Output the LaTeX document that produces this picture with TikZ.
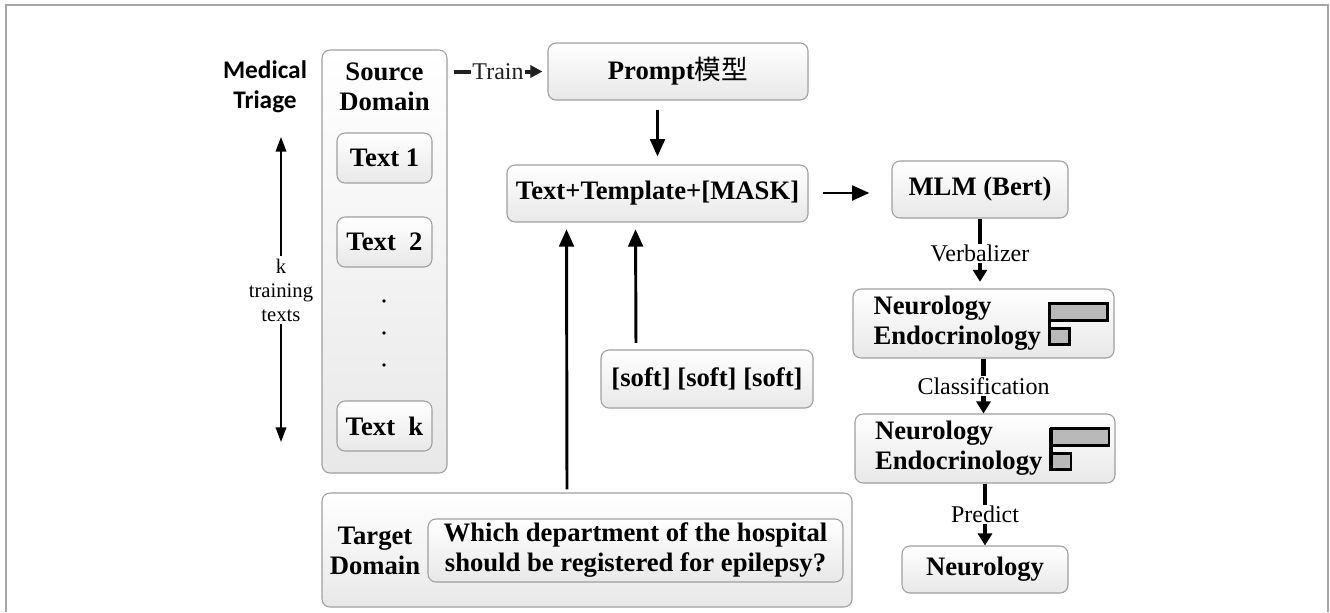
\documentclass[tikz,border=0pt]{standalone}
\usepackage{fontspec}
\setmainfont{Liberation Serif}
\newfontfamily\cjk{Noto Sans CJK SC}
\newfontfamily\calib{Carlito}
\usepackage{tikz}
\tikzstyle{block}=[draw=gray!75, line width=0.8pt, rounded corners=6pt, top color=white, bottom color=gray!18, align=center, inner sep=0pt, font=\bfseries\fontsize{20}{22.5}\selectfont]
\tikzstyle{plain}=[align=center, inner sep=1pt, font=\bfseries\fontsize{20}{22.5}\selectfont]
\tikzstyle{arrow}=[line width=2.2pt,-{Triangle[length=13pt,width=11pt]}]
\tikzstyle{step arrow}=[line width=3.4pt,-{Triangle[length=9pt,width=10.5pt]}]
\tikzstyle{lbl}=[fill=white, inner sep=1pt, font=\fontsize{18}{20}\selectfont]
\tikzstyle{bar}=[draw=black, line width=1.8pt, fill=gray!55]
\usetikzlibrary{arrows.meta,positioning,calc}

\begin{document}
\begin{tikzpicture}[x=0.75pt,y=-0.75pt]
\useasboundingbox (0,0) rectangle (1330,612);
\draw[gray!70, line width=1.5pt] (6,612) -- (6,5) -- (1328,5) -- (1328,612);
% source side
\node (med) at (265,87) [align=center, font=\calib\bfseries\fontsize{19}{22.5}\selectfont] {Medical\\Triage};
\node (src) at (384.5,261.5) [block, minimum width=93.75pt, minimum height=317.25pt] {};
\node (srclbl) at (384.5,87) [plain] {Source\\Domain};
\node (t1) at (384.5,158) [block, minimum width=71.25pt, minimum height=37.5pt] {Text 1};
\node (t2) at (384.5,242) [block, minimum width=71.25pt, minimum height=37.5pt] {Text\ \ 2};
\node (tk) at (384.5,426) [block, minimum width=71.25pt, minimum height=37.5pt] {Text\ \ k};
\foreach \y in {301,333,365} \fill (384,\y) circle (1.4pt);
\node (ktxt) at (281,290) [align=center, inner sep=2pt, font=\fontsize{15.5}{18}\selectfont] {k\\training\\texts};
\coordinate (ktop) at (281,137);
\coordinate (kbot) at (281,442);
\draw[line width=1.1pt,-{Triangle[length=11pt,width=8pt]}] (ktxt.north) -- (ktop);
\draw[line width=1.1pt,-{Triangle[length=11pt,width=8pt]}] (ktxt.south) -- (kbot);
% prompt path
\node (prompt) at (678,71.5) [block, minimum width=195pt, minimum height=42.75pt] {Prompt{\cjk\mdseries 模型}};
\node (ttm) at (657.5,193.5) [block, minimum width=225.75pt, minimum height=42.75pt] {Text+Template+[MASK]};
\node (soft) at (707,379) [block, minimum width=159pt, minimum height=43.5pt] {[soft] [soft] [soft]};
\node (tgt) at (587,550) [block, minimum width=397.5pt, minimum height=85.5pt] {};
\node (tgtlbl) at (375,551) [plain] {Target\\Domain};
\node (quest) at (635.5,550.5) [block, minimum width=311.25pt, minimum height=47.25pt] {Which department of the hospital\\should be registered for epilepsy?};
\draw[line width=3pt, gray!25!black, -{Triangle[length=9pt,width=9pt]}] ([xshift=4.5pt]src.east |- prompt.west) -- node[lbl]{Train} ([xshift=-3.75pt]prompt.west);
\draw[arrow, shorten <=6.75pt, shorten >=6pt] (prompt.south -| ttm.north) -- (ttm.north);
\draw[arrow, shorten <=5pt, shorten >=5pt] ($(soft.north)+(-53.25pt,0)$) -- ($(ttm.south)+(-16.5pt,0)$);
\draw[arrow, shorten <=2.25pt, shorten >=5pt] ($(tgt.north)+(-15pt,0)$) -- ($(ttm.south)+(-68.25pt,0)$);
% right column
\node (mlm) at (980,189.5) [block, minimum width=132pt, minimum height=42.75pt] {MLM (Bert)};
\node (neu1) at (983.5,323.5) [block, minimum width=195.75pt, minimum height=51.75pt, text width=165pt, align=left] {Neurology\\Endocrinology};
\node (neu2) at (985,448.5) [block, minimum width=195pt, minimum height=51.75pt, text width=165pt, align=left] {Neurology\\Endocrinology};
\node (final) at (985,569.5) [block, minimum width=124.5pt, minimum height=35.25pt] {Neurology};
\foreach \n in {neu1,neu2} {
  \draw[bar] ($(\n.center)+(66,-20)$) rectangle ++(58,17);
  \draw[bar] ($(\n.center)+(66,5)$) rectangle ++(20,16);
  \draw[line width=2.6pt] ($(\n.center)+(66,-21)$) -- ($(\n.center)+(66,22)$);
}
\draw[arrow, shorten <=10.5pt, shorten >=16.5pt] ($(ttm.east)+(0,-0.5)$) -- ($(ttm.east -| mlm.west)+(0,-0.5)$);
\draw[step arrow, shorten >=5pt] (mlm.south) -- node[lbl]{Verbalizer} (mlm.south |- neu1.north);
\draw[step arrow] (neu1.south) -- node[lbl]{Classification} (neu1.south |- neu2.north);
\draw[step arrow] (neu2.south) -- node[lbl]{Predict} (neu2.south |- final.north);
\end{tikzpicture}
\end{document}
